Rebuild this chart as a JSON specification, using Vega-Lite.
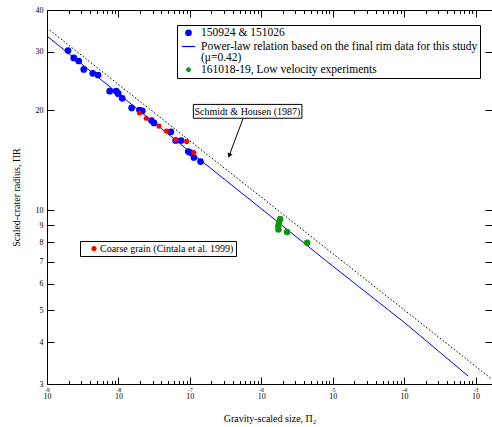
{
  "$schema": "https://vega.github.io/schema/vega-lite/v6.json",
  "width": 445,
  "height": 374,
  "autosize": {"type": "none"},
  "padding": {"left": 47, "top": 10, "right": 0, "bottom": 43},
  "background": "white",
  "datasets": {
    "schmidt": [{"x": 1e-9, "y": 35.3}, {"x": 0.00167, "y": 3.11}],
    "powerlaw": [
      {"x": 1e-9, "y": 33.4}, {"x": 1e-8, "y": 22.4}, {"x": 1e-7, "y": 15.0},
      {"x": 1e-6, "y": 10.1}, {"x": 1e-5, "y": 6.79}, {"x": 1e-4, "y": 4.6},
      {"x": 0.000787, "y": 3.17}
    ],
    "experiments": [
      {"series": "150924 & 151026", "x": 1.97e-9, "y": 30.2},
      {"series": "150924 & 151026", "x": 2.37e-9, "y": 28.7},
      {"series": "150924 & 151026", "x": 2.78e-9, "y": 28.1},
      {"series": "150924 & 151026", "x": 3.27e-9, "y": 26.5},
      {"series": "150924 & 151026", "x": 4.37e-9, "y": 25.8},
      {"series": "150924 & 151026", "x": 5.18e-9, "y": 25.5},
      {"series": "150924 & 151026", "x": 7.55e-9, "y": 22.8},
      {"series": "150924 & 151026", "x": 9.33e-9, "y": 22.8},
      {"series": "150924 & 151026", "x": 9.95e-9, "y": 22.4},
      {"series": "150924 & 151026", "x": 1.13e-8, "y": 21.7},
      {"series": "150924 & 151026", "x": 1.53e-8, "y": 20.3},
      {"series": "150924 & 151026", "x": 1.97e-8, "y": 20.0},
      {"series": "150924 & 151026", "x": 2.16e-8, "y": 19.9},
      {"series": "150924 & 151026", "x": 2.90e-8, "y": 18.6},
      {"series": "150924 & 151026", "x": 3.15e-8, "y": 18.3},
      {"series": "150924 & 151026", "x": 5.43e-8, "y": 17.2},
      {"series": "150924 & 151026", "x": 6.32e-8, "y": 16.2},
      {"series": "150924 & 151026", "x": 7.55e-8, "y": 16.2},
      {"series": "150924 & 151026", "x": 9.51e-8, "y": 15.0},
      {"series": "150924 & 151026", "x": 1.02e-7, "y": 14.9},
      {"series": "150924 & 151026", "x": 1.14e-7, "y": 14.4},
      {"series": "150924 & 151026", "x": 1.41e-7, "y": 14.0}
    ],
    "lowvel": [
      {"series": "161018-19, Low velocity experiments", "x": 1.84e-6, "y": 9.40},
      {"series": "161018-19, Low velocity experiments", "x": 1.77e-6, "y": 9.16},
      {"series": "161018-19, Low velocity experiments", "x": 1.73e-6, "y": 8.96},
      {"series": "161018-19, Low velocity experiments", "x": 1.74e-6, "y": 8.75},
      {"series": "161018-19, Low velocity experiments", "x": 2.30e-6, "y": 8.59},
      {"series": "161018-19, Low velocity experiments", "x": 4.40e-6, "y": 7.98}
    ],
    "coarse": [
      {"series": "Coarse grain (Cintala et al. 1999)", "x": 1.98e-8, "y": 19.6},
      {"series": "Coarse grain (Cintala et al. 1999)", "x": 2.45e-8, "y": 18.9},
      {"series": "Coarse grain (Cintala et al. 1999)", "x": 3.70e-8, "y": 17.9},
      {"series": "Coarse grain (Cintala et al. 1999)", "x": 4.70e-8, "y": 17.3},
      {"series": "Coarse grain (Cintala et al. 1999)", "x": 6.35e-8, "y": 16.3},
      {"series": "Coarse grain (Cintala et al. 1999)", "x": 9.02e-8, "y": 16.1},
      {"series": "Coarse grain (Cintala et al. 1999)", "x": 1.14e-7, "y": 14.9}
    ]
  },
  "layer": [
    {
      "data": {"name": "schmidt"},
      "mark": {"type": "line", "color": "black", "strokeWidth": 1, "strokeDash": [1.5, 2]},
      "encoding": {
        "x": {"field": "x", "type": "quantitative",
          "scale": {"type": "log", "domain": [1e-9, 0.0017], "nice": false},
          "axis": {"orient": "bottom", "values": [1e-9, 1e-8, 1e-7, 1e-6, 1e-5, 1e-4, 1e-3], "labelExpr": "'10'", "ticks": false, "labelFontSize": 8, "labelPadding": 8, "labelDx": -3.5, "title": "Gravity-scaled size, Π₂", "titleFontSize": 10, "titlePadding": 13}},
        "y": {"field": "y", "type": "quantitative",
          "scale": {"type": "log", "domain": [3, 40], "nice": false},
          "axis": {"orient": "left", "values": [3, 4, 5, 6, 7, 8, 9, 10, 20, 30, 40], "ticks": false, "labelFontSize": 8, "labelPadding": 4, "title": "Scaled-crater radius, ΠR", "titleFontSize": 10, "titlePadding": 14}}
      }
    },
    {
      "data": {"name": "powerlaw"},
      "mark": {"type": "line", "color": "#0000ff", "strokeWidth": 1},
      "encoding": {
        "x": {"field": "x", "type": "quantitative",
          "scale": {"type": "log", "domain": [1e-9, 0.0017], "nice": false},
          "axis": {"orient": "bottom", "values": [1e-9, 1e-8, 1e-7, 1e-6, 1e-5, 1e-4, 1e-3], "labelExpr": "'-' + format(-round(log(datum.value)/LN10), 'd')", "ticks": false, "labelFontSize": 5.5, "labelPadding": 3, "labelDx": 3.7, "title": null}},
        "y": {"field": "y", "type": "quantitative",
          "scale": {"type": "log", "domain": [3, 40], "nice": false},
          "axis": {"orient": "left", "values": [3, 4, 5, 6, 7, 8, 9, 10, 20, 30, 40], "labels": false, "tickSize": -7, "title": null}}
      }
    },
    {
      "data": {"name": "experiments"},
      "mark": {"type": "point", "filled": true, "opacity": 1, "strokeWidth": 1.2},
      "encoding": {
        "x": {"field": "x", "type": "quantitative",
          "scale": {"type": "log", "domain": [1e-9, 0.0017], "nice": false},
          "axis": {"orient": "bottom", "values": [1e-9, 1e-8, 1e-7, 1e-6, 1e-5, 1e-4, 1e-3], "labels": false, "tickSize": -7, "title": null}},
        "y": {"field": "y", "type": "quantitative",
          "scale": {"type": "log", "domain": [3, 40], "nice": false},
          "axis": {"orient": "right", "values": [3, 4, 5, 6, 7, 8, 9, 10, 20, 30, 40], "labels": false, "tickSize": -7, "title": null}},
        "color": {"field": "series", "type": "nominal",
          "scale": {"domain": ["150924 & 151026", "Power-law relation based on the final rim data for this study", "(μ=0.42)", "161018-19, Low velocity experiments"], "range": ["#0000ff", "#0000ff", "transparent", "#089808"]},
          "legend": {"orient": "none", "legendX": 130, "legendY": 15, "title": null, "padding": 2, "strokeColor": "black", "fillColor": "white", "symbolOffset": 2, "labelOffset": 5, "rowPadding": -4, "labelFont": "Liberation Serif", "labelFontSize": 11.5, "labelLimit": 400, "labelColor": "black", "symbolStrokeWidth": 1.2}},
        "shape": {"field": "series", "type": "nominal",
          "scale": {"domain": ["150924 & 151026", "Power-law relation based on the final rim data for this study", "(μ=0.42)", "161018-19, Low velocity experiments"], "range": ["circle", "stroke", "circle", "circle"]},
          "legend": {"orient": "none", "legendX": 130, "legendY": 15, "title": null, "padding": 2, "strokeColor": "black", "fillColor": "white", "symbolOffset": 2, "labelOffset": 5, "rowPadding": -4, "labelFont": "Liberation Serif", "labelFontSize": 11.5, "labelLimit": 400, "labelColor": "black", "symbolStrokeWidth": 1.2}},
        "stroke": {"field": "series", "type": "nominal",
          "scale": {"domain": ["150924 & 151026", "Power-law relation based on the final rim data for this study", "(μ=0.42)", "161018-19, Low velocity experiments"], "range": ["transparent", "#0000ff", "transparent", "transparent"]},
          "legend": {"orient": "none", "legendX": 130, "legendY": 15, "title": null, "padding": 2, "strokeColor": "black", "fillColor": "white", "symbolOffset": 2, "labelOffset": 5, "rowPadding": -4, "labelFont": "Liberation Serif", "labelFontSize": 11.5, "labelLimit": 400, "labelColor": "black", "symbolStrokeWidth": 1.2}},
        "size": {"field": "series", "type": "nominal",
          "scale": {"type": "ordinal", "domain": ["150924 & 151026", "Power-law relation based on the final rim data for this study", "(μ=0.42)", "161018-19, Low velocity experiments"], "range": [45, 169, 0, 24]},
          "legend": {"orient": "none", "legendX": 130, "legendY": 15, "title": null, "padding": 2, "strokeColor": "black", "fillColor": "white", "symbolOffset": 2, "labelOffset": 5, "rowPadding": -4, "labelFont": "Liberation Serif", "labelFontSize": 11.5, "labelLimit": 400, "labelColor": "black", "symbolStrokeWidth": 1.2}}
      }
    },
    {
      "data": {"name": "lowvel"},
      "mark": {"type": "point", "filled": true, "opacity": 1, "size": 42, "shape": "circle", "color": "#089808"},
      "encoding": {
        "x": {"field": "x", "type": "quantitative",
          "scale": {"type": "log", "domain": [1e-9, 0.0017], "nice": false}, "axis": null},
        "y": {"field": "y", "type": "quantitative",
          "scale": {"type": "log", "domain": [3, 40], "nice": false}, "axis": null}
      }
    },
    {
      "data": {"name": "coarse"},
      "mark": {"type": "point", "filled": true, "opacity": 1, "size": 26, "shape": "circle"},
      "encoding": {
        "x": {"field": "x", "type": "quantitative",
          "scale": {"type": "log", "domain": [1e-9, 0.0017], "nice": false},
          "axis": {"orient": "bottom", "values": [2e-9, 3e-9, 4e-9, 5e-9, 6e-9, 7e-9, 8e-9, 9e-9, 2e-8, 3e-8, 4e-8, 5e-8, 6e-8, 7e-8, 8e-8, 9e-8, 2e-7, 3e-7, 4e-7, 5e-7, 6e-7, 7e-7, 8e-7, 9e-7, 2e-6, 3e-6, 4e-6, 5e-6, 6e-6, 7e-6, 8e-6, 9e-6, 2e-5, 3e-5, 4e-5, 5e-5, 6e-5, 7e-5, 8e-5, 9e-5, 2e-4, 3e-4, 4e-4, 5e-4, 6e-4, 7e-4, 8e-4, 9e-4], "labels": false, "tickSize": -3.5, "title": null}},
        "y": {"field": "y", "type": "quantitative",
          "scale": {"type": "log", "domain": [3, 40], "nice": false}, "axis": null},
        "color": {"field": "series", "type": "nominal",
          "scale": {"domain": ["Coarse grain (Cintala et al. 1999)"], "range": ["#ff0000"]},
          "legend": {"orient": "none", "legendX": 33, "legendY": 231, "title": null, "padding": 2.5, "strokeColor": "black", "fillColor": "white", "symbolSize": 26, "symbolOffset": 6.5, "labelOffset": 1, "labelFont": "Liberation Serif", "labelFontSize": 10, "labelLimit": 400, "labelColor": "black"}}
      }
    },
    {
      "data": {"values": [{}]},
      "mark": {"type": "rect", "fill": "white", "stroke": "black", "strokeWidth": 1},
      "encoding": {
        "x": {"datum": 1.12e-7, "type": "quantitative",
          "scale": {"type": "log", "domain": [1e-9, 0.0017], "nice": false},
          "axis": {"orient": "top", "values": [1e-9, 1e-8, 1e-7, 1e-6, 1e-5, 1e-4, 1e-3], "labels": false, "tickSize": -7, "title": null}},
        "x2": {"datum": 3.71e-6},
        "y": {"datum": 20.8, "type": "quantitative",
          "scale": {"type": "log", "domain": [3, 40], "nice": false}, "axis": null},
        "y2": {"datum": 18.9}
      }
    },
    {
      "data": {"values": [{}]},
      "mark": {"type": "text", "font": "Liberation Serif", "fontSize": 10, "color": "black", "align": "center", "baseline": "middle"},
      "encoding": {
        "x": {"datum": 6.4e-7, "type": "quantitative",
          "scale": {"type": "log", "domain": [1e-9, 0.0017], "nice": false},
          "axis": {"orient": "top", "values": [2e-9, 3e-9, 4e-9, 5e-9, 6e-9, 7e-9, 8e-9, 9e-9, 2e-8, 3e-8, 4e-8, 5e-8, 6e-8, 7e-8, 8e-8, 9e-8, 2e-7, 3e-7, 4e-7, 5e-7, 6e-7, 7e-7, 8e-7, 9e-7, 2e-6, 3e-6, 4e-6, 5e-6, 6e-6, 7e-6, 8e-6, 9e-6, 2e-5, 3e-5, 4e-5, 5e-5, 6e-5, 7e-5, 8e-5, 9e-5, 2e-4, 3e-4, 4e-4, 5e-4, 6e-4, 7e-4, 8e-4, 9e-4], "labels": false, "tickSize": -3.5, "title": null}},
        "y": {"datum": 19.8, "type": "quantitative",
          "scale": {"type": "log", "domain": [3, 40], "nice": false}, "axis": null},
        "text": {"value": "Schmidt & Housen (1987)"}
      }
    },
    {
      "data": {"values": [{}]},
      "mark": {"type": "rule", "color": "black", "strokeWidth": 1},
      "encoding": {
        "x": {"datum": 5.58e-7, "type": "quantitative",
          "scale": {"type": "log", "domain": [1e-9, 0.0017], "nice": false}, "axis": null},
        "x2": {"datum": 3.6e-7},
        "y": {"datum": 18.9, "type": "quantitative",
          "scale": {"type": "log", "domain": [3, 40], "nice": false}, "axis": null},
        "y2": {"datum": 14.7}
      }
    },
    {
      "data": {"values": [{}]},
      "mark": {"type": "point", "shape": "triangle-down", "filled": true, "opacity": 1, "color": "black", "size": 28, "angle": 21},
      "encoding": {
        "x": {"datum": 3.57e-7, "type": "quantitative",
          "scale": {"type": "log", "domain": [1e-9, 0.0017], "nice": false}, "axis": null},
        "y": {"datum": 14.6, "type": "quantitative",
          "scale": {"type": "log", "domain": [3, 40], "nice": false}, "axis": null}
      }
    }
  ],
  "resolve": {"scale": {"color": "independent", "shape": "independent", "stroke": "independent", "size": "independent"}, "axis": {"x": "independent", "y": "independent"}},
  "config": {
    "font": "Liberation Serif",
    "view": {"stroke": "black", "strokeWidth": 1},
    "axis": {"grid": false, "domain": false, "labelFont": "Liberation Serif", "titleFont": "Liberation Serif", "labelColor": "black", "titleColor": "black", "tickColor": "black", "tickWidth": 1, "titleFontWeight": "normal", "labelFlush": false, "labelOverlap": false, "labelBound": false}
  }
}
